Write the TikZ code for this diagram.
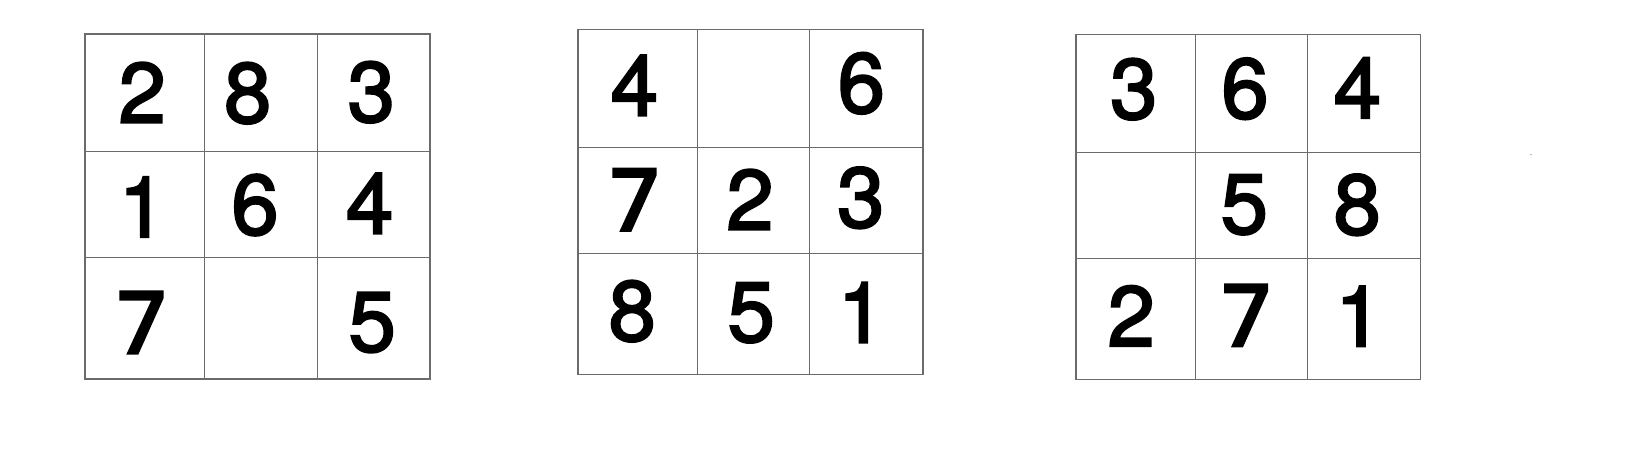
\documentclass[tikz,border=0pt]{standalone}
\usepackage{fontspec}
\newfontfamily\digfont[FakeBold=2.5]{TeX Gyre Heros}
\newfontfamily\sevfont[FakeBold=4]{Noto Sans}
\newcommand\sevn{{\sevfont 7}}
\begin{document}
\begin{tikzpicture}[x=1pt,y=-1pt,
  outer/.style={draw=black!58,line width=1.4pt},
  inner/.style={draw=black!58,line width=0.9pt},
  digit/.style={inner sep=0pt,font=\fontsize{85}{85}\selectfont\digfont}]
\useasboundingbox (0,0) rectangle (1628,453);
% grid 1
\draw[inner] (204,34) -- (204,379) (317,34) -- (317,379) (85,151) -- (430,151) (85,257) -- (430,257);
\draw[outer] (85,34) rectangle (430,379);
\node[digit] (a1) at (142.2,92.5) {2};
\node[digit] (a2) at (247.7,93.2) {8};
\node[digit] (a3) at (371.3,92.2) {3};
\node[digit] (a4) at (142.5,207) {1};
\node[digit] (a5) at (255,205) {6};
\node[digit] (a6) at (369.7,203.3) {4};
\node[digit] (a7) at (141.7,322.5) {\sevn};
\node[digit] (a9) at (372.2,322.5) {5};
% grid 2
\draw[inner] (697.3,29.7) -- (697.3,374.3) (809.3,29.7) -- (809.3,374.3) (578,147.3) -- (923,147.3) (578,253.3) -- (923,253.3);
\draw[outer] (578,29.7) rectangle (923,374.3);
\node[digit] (b1) at (634.5,85.3) {4};
\node[digit] (b3) at (861.3,83.3) {6};
\node[digit] (b4) at (634.7,199.7) {\sevn};
\node[digit] (b5) at (750,199.5) {2};
\node[digit] (b6) at (860.8,197.8) {3};
\node[digit] (b7) at (632.2,311.2) {8};
\node[digit] (b8) at (751.2,312.8) {5};
\node[digit] (b9) at (861.3,312.5) {1};
% grid 3
\draw[inner] (1195.3,34.7) -- (1195.3,379.3) (1307.3,34.7) -- (1307.3,379.3) (1076,152.7) -- (1420.7,152.7) (1076,258.3) -- (1420.7,258.3);
\draw[outer] (1076,34.7) rectangle (1420.7,379.3);
\node[digit] (c1) at (1133.8,89.2) {3};
\node[digit] (c2) at (1245,88.7) {6};
\node[digit] (c3) at (1357.5,87.8) {4};
\node[digit] (c5) at (1244.3,204.7) {5};
\node[digit] (c6) at (1357.2,204.8) {8};
\node[digit] (c7) at (1131.2,315.8) {2};
\node[digit] (c8) at (1246.3,315.3) {\sevn};
\node[digit] (c9) at (1358.8,316.2) {1};
% speck
\fill[black!50] (1531,154.7) circle (0.7);
\end{tikzpicture}
\end{document}
